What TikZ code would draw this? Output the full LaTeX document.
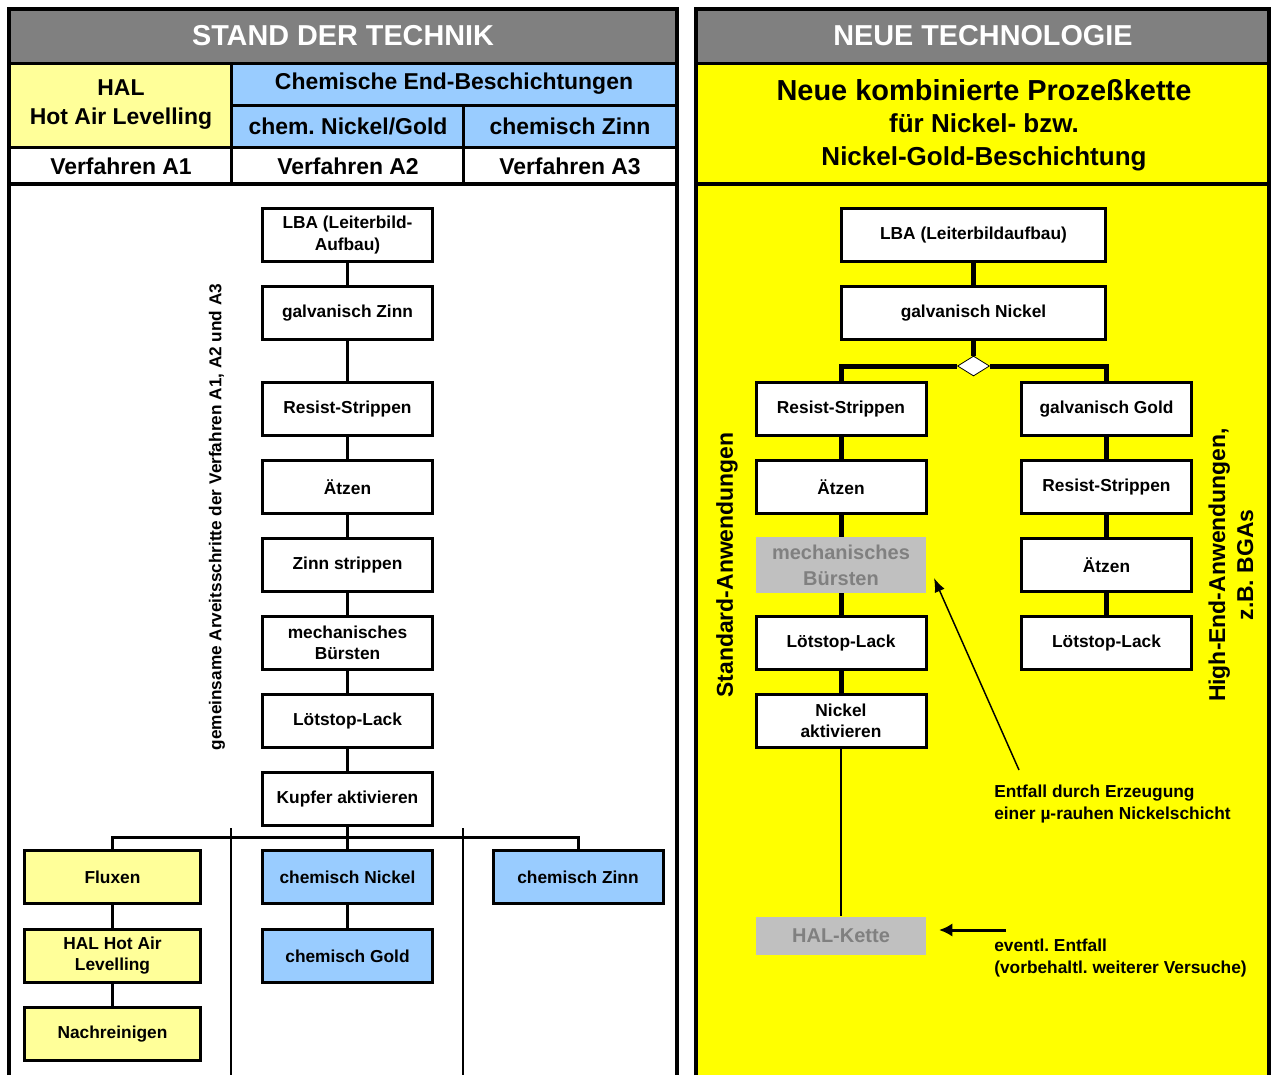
\documentclass[tikz,border=0pt]{standalone}
\usepackage{fontspec}
\setmainfont{Liberation Sans}
\usetikzlibrary{shapes.geometric,arrows.meta}
\frenchspacing
\definecolor{hdrgray}{HTML}{808080}
\definecolor{lyellow}{HTML}{FFFF99}
\definecolor{lblue}{HTML}{99CCFF}
\definecolor{yel}{HTML}{FFFF00}
\definecolor{boxgray}{HTML}{C0C0C0}
\definecolor{txtgray}{HTML}{808080}
\tikzset{
  boxfont/.style={font=\fontsize{13}{15.8}\selectfont\bfseries},
  stepbox/.style={draw, line width=2.25pt, fill=white, minimum width=127.5pt, minimum height=40pt, inner sep=1pt, align=center, boxfont},
  widebox/.style={stepbox, minimum width=198pt},
  yelbox/.style={stepbox, fill=lyellow, minimum width=132pt},
  bluebox/.style={stepbox, fill=lblue},
  graybox/.style={fill=boxgray, draw=none, text=txtgray, minimum width=128pt, minimum height=42pt, inner sep=1pt, align=center, font=\fontsize{15}{19.5}\selectfont\bfseries},
  conn/.style={line width=2.25pt},
  tconn/.style={line width=3.75pt},
  thinconn/.style={line width=1.1pt},
  hdrtext/.style={text=white, font=\fontsize{21.6}{26}\selectfont\bfseries},
  rowtext/.style={font=\fontsize{17.2}{21.75}\selectfont\bfseries, align=center},
  sidelabel/.style={rotate=90, align=center, font=\fontsize{17.2}{21}\selectfont\bfseries},
  note/.style={anchor=north west, align=left, font=\fontsize{13}{16.5}\selectfont\bfseries, inner sep=0pt}
}
\begin{document}
\begin{tikzpicture}[x=0.75pt,y=-0.75pt]
\useasboundingbox (0,0) rectangle (1271,1075);
\fill[white] (0,0) rectangle (1271,1075);
% ---------- left panel backgrounds
\fill[hdrgray] (9,9) rectangle (677,63);
\fill[lyellow] (9,63) rectangle (231,147);
\fill[lblue] (231,63) rectangle (677,147);
% ---------- right panel backgrounds
\fill[hdrgray] (696,9) rectangle (1269,63);
\fill[yel] (696,63) rectangle (1269,1075);
% ---------- grid lines
\draw[line width=3pt] (9,1075) -- (9,9) -- (677,9) -- (677,1075);
\draw[line width=2.25pt] (9,63) -- (677,63) (231,105) -- (677,105) (9,147) -- (677,147)
      (231,63) -- (231,184) (463,105) -- (463,184);
\draw[line width=3pt] (9,184) -- (677,184);
\draw[line width=3pt] (696,1075) -- (696,9) -- (1269,9) -- (1269,1075);
\draw[line width=2.25pt] (696,63) -- (1269,63);
\draw[line width=3pt] (696,184) -- (1269,184);
\draw[thinconn] (231,828) -- (231,1075) (463,828) -- (463,1075);
% ---------- header texts
\node[hdrtext] (hL) at (343,36) {STAND DER TECHNIK};
\node[hdrtext] (hR) at (983,36) {NEUE TECHNOLOGIE};
\node[rowtext] (hal) at (121,105) {HAL\\Hot Air Levelling};
\node[rowtext] (chem) at (454,84) {Chemische End-Beschichtungen};
\node[rowtext] (cng) at (348,126) {chem. Nickel/Gold};
\node[rowtext] (cz) at (570,126) {chemisch Zinn};
\node[rowtext] (va1) at (121,166) {Verfahren A1};
\node[rowtext] (va2) at (348,166) {Verfahren A2};
\node[rowtext] (va3) at (570,166) {Verfahren A3};
\node[align=center, font=\fontsize{19.5}{24.4}\selectfont\bfseries] (title) at (984,125)
  {{\fontsize{21.7}{24.4}\selectfont Neue kombinierte Prozeßkette}\\
   für Nickel- bzw.\\
   Nickel-Gold-Beschichtung};
% ---------- left chain
\node[rotate=90, font=\fontsize{12.9}{15}\selectfont\bfseries] (gem) at (217,517)
  {gemeinsame Arveitsschritte der Verfahren A1, A2 und A3};
\node[stepbox] (l1) at (347.5,235) {LBA (Leiterbild-\\Aufbau)};
\node[stepbox] (l2) at (347.5,313) {galvanisch Zinn};
\node[stepbox] (l3) at (347.5,409) {Resist-Strippen};
\node[stepbox] (l4) at (347.5,487) {Ätzen};
\node[stepbox] (l5) at (347.5,565) {Zinn strippen};
\node[stepbox] (l6) at (347.5,643) {mechanisches\\Bürsten};
\node[stepbox] (l7) at (347.5,721) {Lötstop-Lack};
\node[stepbox] (l8) at (347.5,799) {Kupfer aktivieren};
\foreach \a/\b in {l1/l2,l2/l3,l3/l4,l4/l5,l5/l6,l6/l7,l7/l8}
  \draw[conn] (\a.south) -- (\b.north);
% ---------- left bottom tree
\node[yelbox] (fl) at (112.5,877) {Fluxen};
\node[yelbox] (ha) at (112.5,956) {HAL Hot Air\\Levelling};
\node[yelbox] (nr) at (112.5,1034) {Nachreinigen};
\node[bluebox] (cn) at (347.5,877) {chemisch Nickel};
\node[bluebox] (cg) at (347.5,956) {chemisch Gold};
\node[bluebox] (czn) at (578,877) {chemisch Zinn};
\coordinate (bus) at (347.5,837);
\draw[conn] (l8.south) -- (bus);
\draw[conn] (fl.north) |- (bus) -| (czn.north);
\draw[conn] (bus) -- (cn.north);
\draw[conn] (fl.south) -- (ha.north);
\draw[conn] (ha.south) -- (nr.north);
\draw[conn] (cn.south) -- (cg.north);
% ---------- right chain
\node[widebox] (r1) at (973.5,235) {LBA (Leiterbildaufbau)};
\node[widebox] (r2) at (973.5,313) {galvanisch Nickel};
\node[diamond, draw, line width=0.6pt, fill=white, inner sep=0pt, minimum width=24pt, minimum height=15pt] (dia) at (973.5,366) {};
\node[stepbox] (a1) at (841,409) {Resist-Strippen};
\node[stepbox] (a2) at (841,487) {Ätzen};
\node[graybox] (a3) at (841,565) {mechanisches\\Bürsten};
\node[stepbox] (a4) at (841,643) {Lötstop-Lack};
\node[stepbox] (a5) at (841,721) {Nickel\\aktivieren};
\node[graybox, minimum height=29pt] (a6) at (841,936) {HAL-Kette};
\node[stepbox] (b1) at (1106.5,409) {galvanisch Gold};
\node[stepbox] (b2) at (1106.5,487) {Resist-Strippen};
\node[stepbox] (b3) at (1106.5,565) {Ätzen};
\node[stepbox] (b4) at (1106.5,643) {Lötstop-Lack};
\draw[tconn] (r1.south) -- (r2.north);
\draw[tconn] (r2.south) -- (dia.north);
\draw[tconn] (a1.north) |- (dia.west);
\draw[tconn] (b1.north) |- (dia.east);
\foreach \a/\b in {a1/a2,a2/a3,a3/a4,a4/a5,b1/b2,b2/b3,b3/b4}
  \draw[tconn] (\a.south) -- (\b.north);
\draw[thinconn] (a5.south) -- (a6.north);
% ---------- side labels
\node[sidelabel] (std) at (727,565) {Standard-Anwendungen};
\node[sidelabel] (high) at (1231,565) {High-End-Anwendungen,\\z.B. BGAs};
% ---------- notes and arrows
\node[note] (n1) at (994,785) {Entfall durch Erzeugung\\einer µ-rauhen Nickelschicht};
\node[note] (n2) at (994,939) {eventl. Entfall\\(vorbehaltl. weiterer Versuche)};
\coordinate (n1arr) at (1019,770);
\coordinate (n1tip) at (934,578);
\draw[thinconn, -{Latex[length=10.5pt,width=8pt]}] (n1arr) -- (n1tip);
\coordinate (n2arr) at (1006,930);
\coordinate (n2tip) at (939,930);
\draw[line width=2.25pt, -{Latex[length=10pt,width=10pt]}] (n2arr) -- (n2tip);
\end{tikzpicture}
\end{document}
